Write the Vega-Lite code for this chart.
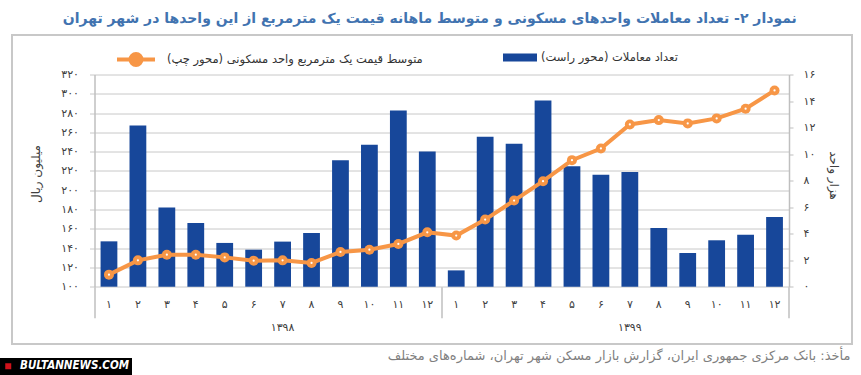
{
  "$schema": "https://vega.github.io/schema/vega-lite/v6.json",
  "width": 694.5,
  "height": 212.2,
  "autosize": {"type": "none"},
  "padding": {"left": 94.5, "top": 74.5, "right": 72, "bottom": 88.3},
  "background": "#ffffff",
  "config": {
    "font": "DejaVu Sans",
    "view": {"stroke": null},
    "axis": {"labelFont": "DejaVu Sans", "titleFont": "DejaVu Sans", "labelColor": "#404040", "titleColor": "#404040", "titleFontWeight": "normal"},
    "legend": {"labelFont": "DejaVu Sans", "titleFont": "DejaVu Sans"}
  },
  "title": {
    "text": "نمودار ۲- تعداد معاملات واحدهای مسکونی و متوسط ماهانه قیمت یک مترمربع از این واحدها در شهر تهران‏",
    "frame": "group",
    "anchor": "middle",
    "baseline": "alphabetic",
    "offset": -2,
    "dx": -12,
    "fontSize": 14,
    "fontWeight": "bold",
    "font": "DejaVu Sans",
    "color": "#4173b0"
  },
  "data": {
    "values": [
      {"idx": 1, "year": 1398, "month": 1, "count": 3.42, "price": 112.5},
      {"idx": 2, "year": 1398, "month": 2, "count": 12.15, "price": 127.3},
      {"idx": 3, "year": 1398, "month": 3, "count": 5.98, "price": 133.2},
      {"idx": 4, "year": 1398, "month": 4, "count": 4.8, "price": 133.2},
      {"idx": 5, "year": 1398, "month": 5, "count": 3.3, "price": 130.4},
      {"idx": 6, "year": 1398, "month": 6, "count": 2.79, "price": 127.0},
      {"idx": 7, "year": 1398, "month": 7, "count": 3.4, "price": 127.3},
      {"idx": 8, "year": 1398, "month": 8, "count": 4.05, "price": 124.6},
      {"idx": 9, "year": 1398, "month": 9, "count": 9.53, "price": 136.0},
      {"idx": 10, "year": 1398, "month": 10, "count": 10.7, "price": 138.4},
      {"idx": 11, "year": 1398, "month": 11, "count": 13.28, "price": 144.3},
      {"idx": 12, "year": 1398, "month": 12, "count": 10.2, "price": 156.4},
      {"idx": 13, "year": 1399, "month": 1, "count": 1.23, "price": 153.0},
      {"idx": 14, "year": 1399, "month": 2, "count": 11.3, "price": 169.6},
      {"idx": 15, "year": 1399, "month": 3, "count": 10.77, "price": 189.3},
      {"idx": 16, "year": 1399, "month": 4, "count": 14.04, "price": 209.4},
      {"idx": 17, "year": 1399, "month": 5, "count": 9.08, "price": 231.2},
      {"idx": 18, "year": 1399, "month": 6, "count": 8.45, "price": 243.3},
      {"idx": 19, "year": 1399, "month": 7, "count": 8.65, "price": 268.2},
      {"idx": 20, "year": 1399, "month": 8, "count": 4.43, "price": 272.7},
      {"idx": 21, "year": 1399, "month": 9, "count": 2.54, "price": 269.3},
      {"idx": 22, "year": 1399, "month": 10, "count": 3.5, "price": 274.5},
      {"idx": 23, "year": 1399, "month": 11, "count": 3.92, "price": 284.5},
      {"idx": 24, "year": 1399, "month": 12, "count": 5.26, "price": 303.5}
    ]
  },
  "layer": [
    {
      "mark": {"type": "bar", "width": {"band": 0.58}},
      "encoding": {
        "x": {
          "field": "idx", "type": "ordinal",
          "scale": {"paddingInner": 0, "paddingOuter": 0},
          "axis": {
            "orient": "bottom",
            "labelExpr": "split('۱,۲,۳,۴,۵,۶,۷,۸,۹,۱۰,۱۱,۱۲', ',')[(datum.value-1)%12]",
            "ticks": false, "domain": false, "grid": false, "labelAngle": 0,
            "labelPadding": 12, "labelFontSize": 11, "title": null
          }
        },
        "y": {
          "field": "count", "type": "quantitative",
          "scale": {"domain": [0, 16], "nice": false},
          "axis": {
            "orient": "right", "values": [0, 2, 4, 6, 8, 10, 12, 14, 16], "grid": false,
            "tickSize": 4, "tickColor": "#bfbfbf", "domainColor": "#bfbfbf", "domainWidth": 1.5,
            "labelExpr": "split('۰,۲,۴,۶,۸,۱۰,۱۲,۱۴,۱۶', ',')[round(datum.value/2)]",
            "labelPadding": 10, "labelFontSize": 11,
            "title": "هزار واحد", "titleX": 44, "titleY": 100.5, "titleAngle": 90,
            "titleAlign": "center", "titleBaseline": "middle", "titleFontSize": 12
          }
        },
        "color": {
          "datum": "تعداد معاملات (محور راست)‏",
          "scale": {"range": ["#17479a"]},
          "legend": {
            "orient": "none", "legendX": 408.5, "legendY": -34, "title": null,
            "symbolType": "M-1,-0.23H1V0.23H-1Z", "symbolSize": 1156, "symbolStrokeWidth": 0,
            "symbolFillColor": "#17479a",
            "labelFontSize": 11.5, "labelColor": "#333333", "labelOffset": 4, "labelLimit": 500
          }
        }
      }
    },
    {
      "mark": {"type": "line", "strokeWidth": 4},
      "encoding": {
        "x": {
          "field": "idx", "type": "ordinal",
          "axis": {
            "orient": "bottom",
            "values": [1, 13], "bandPosition": 0, "tickSize": 31, "tickColor": "#bfbfbf", "tickWidth": 1.5,
            "domain": false, "grid": false, "labelAngle": 0,
            "labelExpr": "datum.value == 1 ? '۱۳۹۸' : '۱۳۹۹'",
            "labelOffset": 173.6, "labelPadding": 4, "labelFontSize": 11, "title": null
          }
        },
        "y": {
          "field": "price", "type": "quantitative",
          "scale": {"domain": [100, 320], "nice": false, "zero": false},
          "axis": {
            "orient": "left", "values": [100, 120, 140, 160, 180, 200, 220, 240, 260, 280, 300, 320],
            "grid": true, "gridColor": "#c8c8c8", "gridWidth": 1,
            "tickSize": 5, "tickColor": "#c8c8c8", "domainColor": "#bfbfbf", "domainWidth": 1.5,
            "labelExpr": "split('۱۰۰,۱۲۰,۱۴۰,۱۶۰,۱۸۰,۲۰۰,۲۲۰,۲۴۰,۲۶۰,۲۸۰,۳۰۰,۳۲۰', ',')[round((datum.value-100)/20)]",
            "labelPadding": 11, "labelFontSize": 11,
            "title": "میلیون ریال", "titleX": -59.5, "titleY": 99, "titleAngle": -90,
            "titleAlign": "center", "titleBaseline": "middle", "titleFontSize": 12
          }
        },
        "stroke": {
          "datum": "متوسط قیمت یک مترمربع واحد مسکونی (محور چپ)‏",
          "scale": {"range": ["#f79646"]},
          "legend": {
            "orient": "none", "legendX": 20.5, "legendY": -36, "title": null,
            "symbolType": "M-1,0H1M0.29,0A0.29,0.29,0,1,1,-0.29,0A0.29,0.29,0,1,1,0.29,0Z",
            "symbolSize": 1444, "symbolStrokeWidth": 4,
            "symbolFillColor": "#f79646", "symbolStrokeColor": "#f79646",
            "labelFontSize": 11.5, "labelColor": "#333333", "labelOffset": 10, "labelLimit": 500
          }
        }
      }
    },
    {
      "mark": {"type": "point", "filled": true, "size": 100, "color": "#f79646", "opacity": 1},
      "encoding": {
        "x": {
          "field": "idx", "type": "ordinal",
          "axis": {
            "orient": "bottom",
            "values": [24], "bandPosition": 1, "tickSize": 31, "tickColor": "#bfbfbf", "tickWidth": 1.5,
            "labels": false, "domain": false, "grid": false,
            "title": "مأخذ: بانک مرکزی جمهوری ایران، گزارش بازار مسکن شهر تهران، شماره‌های مختلف",
            "titleX": 755.5, "titleY": 69, "titleAlign": "right", "titleBaseline": "middle",
            "titleColor": "#7f7f7f", "titleFontSize": 13, "titleFontWeight": "normal"
          }
        },
        "y": {"field": "price", "type": "quantitative", "scale": {"domain": [100, 320], "nice": false, "zero": false}, "axis": null}
      }
    },
    {
      "mark": {"type": "point", "filled": true, "size": 5, "opacity": 1, "color": "#ffffff"},
      "encoding": {
        "x": {"field": "idx", "type": "ordinal", "axis": null},
        "y": {"field": "price", "type": "quantitative", "scale": {"domain": [100, 320], "nice": false, "zero": false}, "axis": null}
      }
    },
    {
      "transform": [{"filter": "false"}],
      "mark": {"type": "point", "filled": true, "size": 36, "opacity": 1, "color": "#d0121b"},
      "encoding": {
        "shape": {
          "datum": "BULTANNEWS.COM",
          "scale": {"range": ["square"]},
          "legend": {
            "orient": "none", "legendX": -94.5, "legendY": 283.5, "title": null,
            "fillColor": "#000000", "padding": 2.5,
            "symbolType": "square", "symbolSize": 36, "symbolFillColor": "#d0121b",
            "symbolStrokeWidth": 0, "symbolOpacity": 1,
            "labelColor": "#ffffff", "labelFont": "DejaVu Sans Condensed", "labelFontStyle": "italic", "labelFontWeight": "bold",
            "labelFontSize": 11.5, "labelOffset": 6
          }
        }
      }
    },
    {
      "mark": {"type": "point", "filled": true, "size": 0, "opacity": 1},
      "encoding": {
        "x": {"field": "idx", "type": "ordinal", "axis": null},
        "y": {"field": "price", "type": "quantitative", "scale": {"domain": [100, 320], "nice": false, "zero": false}, "axis": null},
        "fill": {
          "datum": 0, "type": "quantitative",
          "scale": {"domain": [0, 1], "range": ["rgba(255,255,255,0)", "rgba(255,255,255,0)"]},
          "legend": {
            "orient": "none", "legendX": -82.5, "legendY": -39.5, "direction": "horizontal",
            "gradientLength": 840, "gradientThickness": 309,
            "gradientStrokeColor": "#c8c8c8", "gradientStrokeWidth": 2,
            "labelOpacity": 0, "labelExpr": "''", "title": null, "padding": 0
          }
        }
      }
    }
  ],
  "resolve": {
    "scale": {"y": "independent"},
    "axis": {"x": "independent", "y": "independent"}
  }
}
